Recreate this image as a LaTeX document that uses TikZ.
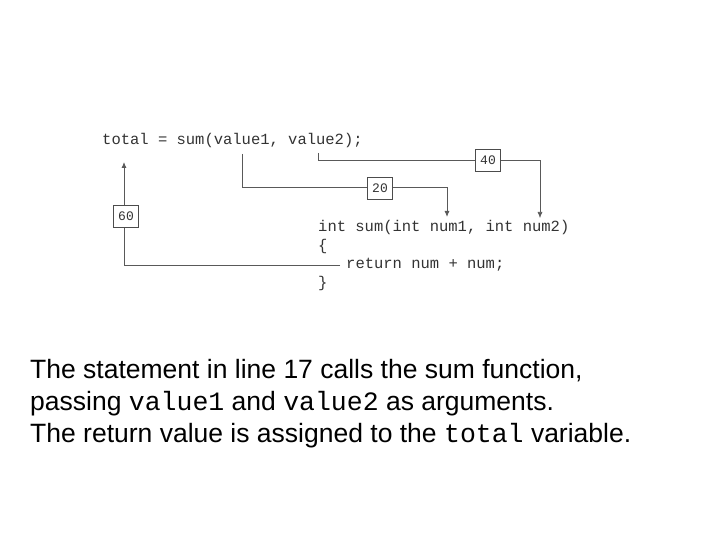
\documentclass[tikz,border=0pt]{standalone}
\usepackage{fontspec}
\setmainfont{Liberation Sans}
\setmonofont{Liberation Mono}
\usetikzlibrary{arrows.meta}
\begin{document}
\begin{tikzpicture}[x=1pt,y=-1pt,
  code/.style={font=\ttfamily\fontsize{15.5}{18}\selectfont,anchor=base west,inner sep=0pt,text=black!80},
  box/.style={draw=black!70,fill=white,font=\ttfamily\fontsize{13}{15}\selectfont,inner sep=3pt,minimum width=25,minimum height=22,text=black!80},
  ln/.style={draw=black!65,line width=0.9pt},
  arr/.style={ln,-{Latex[length=6pt,width=5pt]}},
  txt/.style={font=\fontsize{26.5}{30}\selectfont,anchor=base west,inner sep=0pt}]
\useasboundingbox (0,0) rectangle (720,540);
\node[code] (l1) at (102,145) {total = sum(value1, value2);};
\node[code] (f1) at (318,231) {int sum(int num1, int num2)};
\node[code] (f2) at (318,250) {\{};
\node[code] (f3) at (346,268) {return num + num;};
\node[code] (f4) at (318,287) {\}};
\coordinate (a0) at (242,154);
\coordinate (a1) at (242,187);
\coordinate (a2) at (447,187);
\coordinate (a3) at (447,217);
\coordinate (b0) at (318,153);
\coordinate (b1) at (318,160);
\coordinate (b2) at (540,160);
\coordinate (b3) at (540,218);
\coordinate (c0) at (340,265);
\coordinate (c1) at (124,265);
\coordinate (c2) at (124,162);
\draw[arr] (a0) -- (a1) -- (a2) -- (a3);
\draw[arr,line width=0.6pt] (b0) -- (b1) -- (b2) -- (b3);
\draw[arr] (c0) -- (c1) -- (c2);
\node[box] (n20) at (380,188) {20};
\node[box] (n40) at (488,160) {40};
\node[box] (n60) at (126,216) {60};
\node[txt] (t1) at (30,378) {The statement in line 17 calls the sum function,};
\node[txt] (t2) at (30,410) {passing \texttt{value1} and \texttt{value2} as arguments.};
\node[txt] (t3) at (30,442) {The return value is assigned to the \texttt{total} variable.};
\end{tikzpicture}
\end{document}
